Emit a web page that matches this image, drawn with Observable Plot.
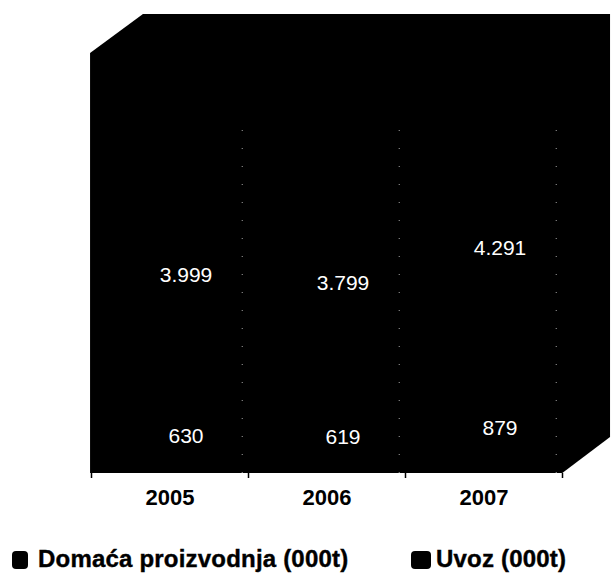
<!DOCTYPE html>
<html>
<head>
<meta charset="utf-8">
<script src="https://cdn.jsdelivr.net/npm/d3@7"></script>
<script src="https://cdn.jsdelivr.net/npm/@observablehq/plot@0.6"></script>
<style>
html,body{margin:0;padding:0;background:#fff;width:611px;height:573px;overflow:hidden}
#chart svg{display:block}
#legend{position:relative;height:53px;font:bold 24px "Liberation Sans",Arial,sans-serif;letter-spacing:0.2px;color:#000;white-space:nowrap;-webkit-text-stroke:0.4px #000}
#legend span{position:absolute;top:28px;line-height:22px}
#legend i{position:absolute;top:31px;height:18px;background:#000;border-radius:4px}
</style>
</head>
<body>
<div id="chart"></div>
<div id="legend">
  <i style="left:12px;width:16px"></i><span style="left:38px" id="l0"></span>
  <i style="left:411px;width:20px"></i><span style="left:436px" id="l1"></span>
</div>
<script>
const years = ["2005", "2006", "2007"];
const positions = [0, 1, 2];
const domestic = [3999, 3799, 4291];
const imports = [630, 619, 879];
const seriesNames = ["Domaća proizvodnja (000t)", "Uvoz (000t)"];
const axisTicks = [0, 1, 2, 3];
const labelTicks = [0.5, 1.5, 2.5];
const gridlines = [0.96, 1.96, 2.96];

// outline of the 3D wall and floor, in scale units
const wallX = [-0.006, 0.331, 3.002, 3.306];
const wallTop = [6039, 6600, 6600, 6600];
const wallBottom = [0, 0, 0, 518];
const wall = wallX.map((x, i) => ({x, y1: wallBottom[i], y2: wallTop[i]}));

const rows = [
  ...positions.map((p, i) => ({pos: p, series: seriesNames[1], value: imports[i]})),
  ...positions.map((p, i) => ({pos: p, series: seriesNames[0], value: domestic[i]}))
];
const fmt = d3.formatLocale({decimal: ",", thousands: ".", grouping: [3], currency: ["", ""]}).format(",d");

const chart = Plot.plot({
  width: 611,
  height: 520,
  marginTop: 14,
  marginBottom: 47,
  marginLeft: 91,
  marginRight: 49,
  style: {background: "#fff", fontFamily: "'Liberation Sans', Arial, sans-serif"},
  x: {type: "linear", domain: [0, 3]},
  y: {domain: [0, 6600], axis: null},
  marks: [
    Plot.areaY(wall, {x: "x", y1: "y1", y2: "y2", fill: "#000", clip: false}),
    Plot.rectY(rows, {x: "pos", y: "value", z: "series", interval: 1, fill: "#000"}),
    Plot.ruleX(gridlines, {y1: 0, y2: 5000, stroke: "#fff", strokeWidth: 1, strokeDasharray: "1,17", strokeOpacity: 0.65}),
    Plot.text(rows, Plot.stackY({
      x: d => d.pos + 0.5, y: "value", z: "series",
      text: d => fmt(d.value),
      dx: 16, dy: -15, fill: "#fff", fontSize: 21, stroke: null
    })),
    Plot.axisX({ticks: axisTicks, tickFormat: () => "", tickSize: 5, tickPadding: 0, label: null, stroke: "#000", strokeWidth: 1.5}),
    Plot.axisX({ticks: labelTicks, tickFormat: (d, i) => years[i], tickSize: 0, tickPadding: 16, label: null, fontSize: 22, fontWeight: "bold", fill: "#000"})
  ]
});
document.getElementById("chart").append(chart);
document.getElementById("l0").textContent = seriesNames[0];
document.getElementById("l1").textContent = seriesNames[1];
</script>
</body>
</html>
